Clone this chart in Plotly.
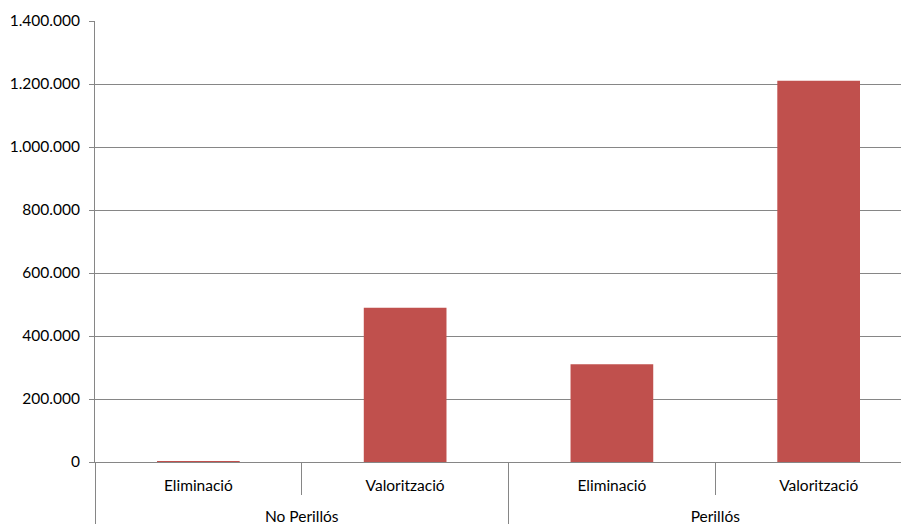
import plotly.graph_objects as go

groups = ["<br>No Perillós", "<br>No Perillós", "<br>Perillós", "<br>Perillós"]
types = ["Eliminació", "Valorització", "Eliminació", "Valorització"]
values = [3000, 490000, 310000, 1210000]
y_ticks = [0, 200000, 400000, 600000, 800000, 1000000, 1200000, 1400000]

bar_color = "#C0504D"
line_color = "#868686"
font_family = "Lato, 'Open Sans', sans-serif"

fig = go.Figure(
    go.Bar(
        x=[groups, types],
        y=values,
        marker=dict(color=bar_color, line=dict(width=0)),
        width=0.4,
    )
)

# page body has an 8px margin, so the figure is offset by 8px
fig.update_layout(
    width=901,
    height=516,
    margin=dict(l=87, r=0, t=13, b=62, autoexpand=False),
    paper_bgcolor="white",
    plot_bgcolor="white",
    separators=",.",
    showlegend=False,
    font=dict(family=font_family, size=15.5, color="#000000"),
)

fig.update_yaxes(
    range=[0, 1400000],
    tickvals=y_ticks,
    tickformat=",d",
    showgrid=True,
    gridcolor=line_color,
    gridwidth=1,
    zeroline=False,
    showline=True,
    linecolor=line_color,
    linewidth=1,
    ticks="outside",
    ticklen=5,
    tickcolor=line_color,
    ticklabelstandoff=6,
    automargin=False,
)

fig.update_xaxes(
    type="multicategory",
    range=[-0.5, 3.437],
    showline=True,
    linecolor=line_color,
    linewidth=1,
    ticks="outside",
    tickson="boundaries",
    ticklen=32,
    tickcolor=line_color,
    showdividers=True,
    dividercolor=line_color,
    dividerwidth=1,
    ticklabelstandoff=9,
    showgrid=False,
    automargin=False,
)

fig.write_html("out.html")
